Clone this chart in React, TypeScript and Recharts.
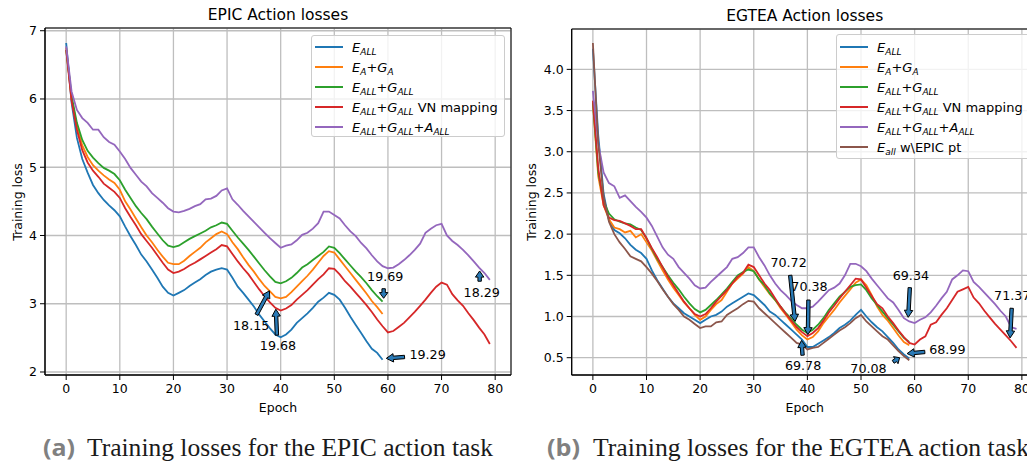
import React from "react";
import {
  LineChart,
  Line,
  XAxis,
  YAxis,
  CartesianGrid,
  ReferenceArea,
  ReferenceLine,
  ReferenceDot,
  Legend,
} from "recharts";

// epochs 0..79
const epochs = Array.from({ length: 80 }, (_, i) => i);
const xTicks = [0, 10, 20, 30, 40, 50, 60, 70, 80];
const epicYTicks = [2, 3, 4, 5, 6, 7];
const egteaYTicks = [0.5, 1.0, 1.5, 2.0, 2.5, 3.0, 3.5, 4.0];

// EPIC action losses
const epicEAll = [
  6.82, 5.95, 5.43, 5.12, 4.92, 4.74, 4.62, 4.52, 4.44, 4.37,
  4.28, 4.13, 3.99, 3.86, 3.72, 3.62, 3.5, 3.38, 3.25, 3.16,
  3.12, 3.16, 3.2, 3.26, 3.31, 3.36, 3.42, 3.47, 3.5, 3.52,
  3.5, 3.38, 3.25, 3.16, 3.06, 2.96, 2.84, 2.74, 2.64, 2.55,
  2.51, 2.55, 2.62, 2.72, 2.79, 2.86, 2.94, 3.03, 3.09, 3.16,
  3.13, 3.06, 2.94, 2.81, 2.69, 2.57, 2.45, 2.34, 2.28, 2.18,
];
const epicEaGa = [
  6.75, 6.0, 5.6, 5.32, 5.15, 5.03, 4.95, 4.88, 4.82, 4.77,
  4.67, 4.5, 4.38, 4.25, 4.12, 4.0, 3.9, 3.79, 3.69, 3.6,
  3.58, 3.58, 3.63, 3.7, 3.76, 3.82, 3.9, 3.96, 4.02, 4.06,
  4.02, 3.9, 3.8, 3.68, 3.57, 3.47, 3.36, 3.26, 3.18, 3.1,
  3.08, 3.1, 3.17, 3.25, 3.33, 3.41, 3.5, 3.6, 3.7, 3.77,
  3.75, 3.65, 3.55, 3.45, 3.35, 3.25, 3.15, 3.04, 2.95, 2.85,
];
const epicEG = [
  6.72, 6.05, 5.65, 5.4, 5.24, 5.14, 5.06, 4.99, 4.95, 4.9,
  4.81, 4.67, 4.55, 4.43, 4.33, 4.24, 4.13, 4.03, 3.93, 3.85,
  3.83, 3.85, 3.9, 3.95, 3.99, 4.03, 4.07, 4.12, 4.15, 4.19,
  4.17, 4.07, 3.97, 3.88, 3.79, 3.69, 3.59, 3.49, 3.4, 3.32,
  3.3, 3.33, 3.38, 3.45, 3.53, 3.58, 3.64, 3.7, 3.76, 3.84,
  3.82, 3.74, 3.65, 3.56, 3.47, 3.39, 3.3, 3.2, 3.11, 3.03,
];
const epicVN = [
  6.72, 5.98, 5.55, 5.25, 5.07, 4.95, 4.86, 4.76, 4.7, 4.64,
  4.55, 4.4, 4.27, 4.15, 4.02, 3.92, 3.82, 3.71, 3.6, 3.5,
  3.45, 3.47, 3.51, 3.56, 3.6, 3.65, 3.7, 3.75, 3.8, 3.86,
  3.84, 3.73, 3.62, 3.52, 3.43, 3.32, 3.21, 3.11, 3.02, 2.94,
  2.9, 2.93, 2.98, 3.06, 3.13, 3.2, 3.28, 3.36, 3.43, 3.52,
  3.51, 3.43, 3.33, 3.25, 3.16, 3.07, 2.98, 2.88, 2.77, 2.67,
  2.58, 2.6, 2.66, 2.72, 2.8, 2.88, 2.97, 3.06, 3.16, 3.25,
  3.31, 3.28, 3.14, 3.05, 2.97, 2.86, 2.76, 2.65, 2.55, 2.41,
];
const epicEGA = [
  6.77, 6.11, 5.84, 5.72, 5.65, 5.55, 5.55, 5.44, 5.37, 5.33,
  5.23, 5.12, 4.99, 4.89, 4.79, 4.72, 4.62, 4.55, 4.48, 4.4,
  4.35, 4.34, 4.36, 4.39, 4.43, 4.46, 4.53, 4.54, 4.58, 4.66,
  4.69, 4.53, 4.45, 4.36, 4.28, 4.2, 4.12, 4.04, 3.96, 3.89,
  3.82, 3.85, 3.87, 3.93, 4.01, 4.04, 4.1, 4.18, 4.35, 4.35,
  4.3, 4.25, 4.15, 4.06, 3.99, 3.89, 3.81, 3.71, 3.62, 3.55,
  3.52, 3.53, 3.58, 3.64, 3.71, 3.79, 3.88, 4.04, 4.1, 4.15,
  4.17, 4.0, 3.92, 3.86, 3.79, 3.71, 3.62, 3.53, 3.45, 3.35,
];

// EGTEA action losses
const egteaEAll = [
  4.25, 3.2, 2.49, 2.17, 2.05, 2.01, 1.95, 1.87, 1.81, 1.77,
  1.7, 1.56, 1.44, 1.34, 1.24, 1.16, 1.1, 1.04, 1.0, 0.96,
  0.92, 0.96, 1.0, 1.02, 1.06, 1.12, 1.16, 1.2, 1.24, 1.28,
  1.26, 1.2, 1.14, 1.06, 1.02, 0.96, 0.9, 0.84, 0.78, 0.72,
  0.63, 0.63, 0.67, 0.71, 0.75, 0.8, 0.86, 0.9, 0.95, 1.02,
  1.08, 1.0, 0.93, 0.87, 0.82, 0.75, 0.68, 0.6, 0.54, 0.49,
];
const egteaEaGa = [
  3.6, 2.7, 2.35, 2.18, 2.08, 2.06, 2.02, 2.04, 1.96, 2.0,
  1.9, 1.8, 1.68, 1.56, 1.45, 1.35, 1.26, 1.17, 1.1, 1.02,
  0.96, 1.0, 1.08, 1.15, 1.2, 1.3, 1.4, 1.46, 1.52, 1.6,
  1.55, 1.45, 1.36, 1.27, 1.2, 1.1, 1.02, 0.93, 0.84, 0.77,
  0.72, 0.75, 0.82, 0.92, 1.0, 1.08, 1.17, 1.25, 1.33, 1.41,
  1.45, 1.38, 1.26, 1.12, 1.02, 0.95, 0.86, 0.77, 0.69, 0.65,
];
const egteaEG = [
  3.6, 2.75, 2.4, 2.25, 2.18, 2.15, 2.13, 2.12, 2.08, 2.05,
  1.95, 1.82, 1.7, 1.6, 1.5, 1.41, 1.33, 1.24, 1.16, 1.09,
  1.05, 1.08, 1.14, 1.2, 1.27, 1.34, 1.42, 1.5, 1.54, 1.57,
  1.55, 1.45, 1.38, 1.28, 1.2, 1.12, 1.04, 0.97, 0.9, 0.84,
  0.8, 0.84, 0.9, 0.98, 1.08, 1.16, 1.24, 1.3, 1.36, 1.38,
  1.39, 1.32, 1.22, 1.14, 1.06, 0.98, 0.9, 0.82, 0.74, 0.69,
];
const egteaVN = [
  3.62, 2.8, 2.35, 2.2, 2.17, 2.16, 2.13, 2.1, 2.06, 2.06,
  1.95, 1.83, 1.72, 1.6, 1.48, 1.38, 1.28, 1.18, 1.1, 1.03,
  1.0, 1.03, 1.1, 1.18, 1.25, 1.32, 1.4, 1.48, 1.53, 1.63,
  1.6, 1.5, 1.4, 1.32, 1.22, 1.12, 1.03, 0.95, 0.87, 0.81,
  0.76, 0.8, 0.86, 0.95, 1.05, 1.13, 1.22, 1.3, 1.38, 1.46,
  1.45, 1.35, 1.25, 1.15, 1.1, 1.0, 0.92, 0.83, 0.75, 0.68,
  0.66, 0.72, 0.76, 0.9, 0.93, 1.02, 1.1, 1.2, 1.3, 1.33,
  1.36, 1.23, 1.16, 1.07, 0.99, 0.91, 0.84, 0.77, 0.7, 0.62,
];
const egteaEGA = [
  3.74, 3.1, 2.75, 2.62, 2.58, 2.44, 2.47, 2.4, 2.33, 2.27,
  2.2, 2.1, 1.97, 1.84, 1.75, 1.7, 1.6, 1.53, 1.46, 1.38,
  1.34, 1.35, 1.42, 1.48, 1.54, 1.6, 1.7, 1.72, 1.77, 1.84,
  1.84, 1.72, 1.62, 1.5, 1.4, 1.32, 1.26, 1.19, 1.14, 1.1,
  1.1, 1.12, 1.18, 1.25, 1.32, 1.35, 1.4, 1.5, 1.64, 1.64,
  1.61, 1.55, 1.46, 1.38, 1.3, 1.22, 1.17, 1.08, 0.98, 0.94,
  0.92, 0.96, 0.99, 1.05, 1.13, 1.22, 1.3, 1.45, 1.5, 1.56,
  1.55, 1.42, 1.36, 1.29, 1.22, 1.15, 1.07, 1.0, 0.87, 0.85,
];
const egteaEpicPt = [
  4.32, 3.1, 2.45, 2.15, 2.0, 1.9, 1.82, 1.73, 1.7, 1.67,
  1.6, 1.52, 1.43, 1.33, 1.24, 1.15, 1.08, 1.0, 0.96, 0.91,
  0.86, 0.88, 0.88, 0.93, 0.94, 1.02, 1.06, 1.1, 1.15, 1.19,
  1.18, 1.1, 1.04, 0.98, 0.92, 0.86, 0.8, 0.74, 0.68, 0.66,
  0.6, 0.62, 0.63, 0.68, 0.73, 0.78, 0.83, 0.87, 0.92, 0.98,
  1.02, 0.94, 0.88, 0.82, 0.76, 0.72, 0.65, 0.58, 0.52, 0.47,
];

// annotations: label, text centre (tx, ty), arrow tail (ax, ay), arrow head (hx, hy)
const epicNotes = [
  { label: "19.69", tx: 59.5, ty: 3.4, ax: 59.2, ay: 3.22, hx: 59.2, hy: 3.08 },
  { label: "18.29", tx: 77.5, ty: 3.17, ax: 77.1, ay: 3.33, hx: 77.1, hy: 3.48 },
  { label: "18.15", tx: 34.5, ty: 2.68, ax: 35.5, ay: 2.84, hx: 37.9, hy: 3.19 },
  { label: "19.68", tx: 39.5, ty: 2.39, ax: 39.3, ay: 2.54, hx: 39.1, hy: 2.92 },
  { label: "19.29", tx: 67.4, ty: 2.25, ax: 63.1, ay: 2.22, hx: 59.7, hy: 2.2 },
];
const egteaNotes = [
  { label: "70.72", tx: 36.5, ty: 1.65, ax: 36.8, ay: 1.5, hx: 37.7, hy: 0.94 },
  { label: "70.38", tx: 40.4, ty: 1.36, ax: 40.2, ay: 1.2, hx: 40.1, hy: 0.78 },
  { label: "69.78", tx: 39.2, ty: 0.4, ax: 39.1, ay: 0.53, hx: 38.9, hy: 0.71 },
  { label: "70.08", tx: 51.4, ty: 0.37, ax: 56.0, ay: 0.45, hx: 57.2, hy: 0.5 },
  { label: "68.99", tx: 66.1, ty: 0.6, ax: 61.9, ay: 0.57, hx: 58.6, hy: 0.55 },
  { label: "69.34", tx: 59.3, ty: 1.5, ax: 59.1, ay: 1.35, hx: 58.8, hy: 0.99 },
  { label: "71.37", tx: 78.2, ty: 1.25, ax: 78.1, ay: 1.1, hx: 77.8, hy: 0.74 },
];

type Seg = string | [string, string];

const epicSeries = [
  { key: "eAll", color: "#1f77b4", label: [["E", "ALL"]] as Seg[] },
  { key: "eaGa", color: "#ff7f0e", label: [["E", "A"], "+", ["G", "A"]] as Seg[] },
  { key: "eg", color: "#2ca02c", label: [["E", "ALL"], "+", ["G", "ALL"]] as Seg[] },
  { key: "vn", color: "#d62728", label: [["E", "ALL"], "+", ["G", "ALL"], " VN mapping"] as Seg[] },
  { key: "ega", color: "#9467bd", label: [["E", "ALL"], "+", ["G", "ALL"], "+", ["A", "ALL"]] as Seg[] },
];
const egteaSeries = [
  ...epicSeries,
  { key: "epicPt", color: "#8c564b", label: [["E", "all"], " w\\EPIC pt"] as Seg[] },
];

const epicData = epochs.map((e) => ({
  epoch: e,
  eAll: epicEAll[e],
  eaGa: epicEaGa[e],
  eg: epicEG[e],
  vn: epicVN[e],
  ega: epicEGA[e],
}));
const egteaData = epochs.map((e) => ({
  epoch: e,
  eAll: egteaEAll[e],
  eaGa: egteaEaGa[e],
  eg: egteaEG[e],
  vn: egteaVN[e],
  ega: egteaEGA[e],
  epicPt: egteaEpicPt[e],
}));

const FONT = "'DejaVu Sans', sans-serif";
const tickStyle = { fill: "#000", fontSize: 12.5, fontFamily: FONT };

function Arrow(p: any) {
  const { x1, y1, x2, y2 } = p;
  if (x1 == null || y2 == null) return null;
  const dx = x2 - x1;
  const dy = y2 - y1;
  const len = Math.hypot(dx, dy) || 1;
  const ux = dx / len;
  const uy = dy / len;
  const nx = -uy;
  const ny = ux;
  const hl = Math.min(7, len * 0.6);
  const hw = 4.2;
  const sw = 1.7;
  const bx = x2 - ux * hl;
  const by = y2 - uy * hl;
  const pts = [
    [x1 + nx * sw, y1 + ny * sw],
    [bx + nx * sw, by + ny * sw],
    [bx + nx * hw, by + ny * hw],
    [x2, y2],
    [bx - nx * hw, by - ny * hw],
    [bx - nx * sw, by - ny * sw],
    [x1 - nx * sw, y1 - ny * sw],
  ];
  return (
    <polygon
      points={pts.map((q) => q.join(",")).join(" ")}
      fill="#2a7ab6"
      stroke="#000"
      strokeWidth={1}
    />
  );
}

function LegendBox({ items, w, h, pad }: { items: typeof egteaSeries; w: number; h: number; pad: number }) {
  return (
    <div
      style={{
        width: w,
        height: h,
        boxSizing: "border-box",
        background: "rgba(255,255,255,0.8)",
        border: "1px solid #cccccc",
        borderRadius: 3,
        paddingTop: pad,
        fontFamily: FONT,
        fontSize: 13,
        color: "#000",
      }}
    >
      {items.map((s) => (
        <div key={s.key} style={{ height: 20, display: "flex", alignItems: "center", whiteSpace: "nowrap" }}>
          <span style={{ display: "inline-block", width: 28, height: 2, background: s.color, marginLeft: 3, marginRight: 9 }} />
          <span>
            {s.label.map((seg, i) =>
              typeof seg === "string" ? (
                <span key={i}>{seg}</span>
              ) : (
                <span key={i} style={{ fontStyle: "italic" }}>
                  {seg[0]}
                  <span style={{ fontSize: 9, position: "relative", top: 3 }}>{seg[1]}</span>
                </span>
              )
            )}
          </span>
        </div>
      ))}
    </div>
  );
}

function Panel({
  data,
  series,
  notes,
  yDomain,
  yTicks,
  yFmt,
  yAxisWidth,
  marginLeft,
  marginRight,
  top,
  width,
  legendPos,
}: any) {
  return (
    <LineChart
      width={width}
      height={420}
      data={data}
      margin={{ top, right: marginRight, bottom: 15, left: marginLeft }}
    >
      <CartesianGrid stroke="#bebebe" strokeWidth={1.3} />
      <XAxis
        dataKey="epoch"
        type="number"
        domain={[-3.95, 82.95]}
        allowDataOverflow
        ticks={xTicks}
        interval={0}
        height={30}
        tick={tickStyle}
        tickSize={5}
        tickMargin={4}
        tickLine={{ stroke: "#000" }}
        axisLine={{ stroke: "#000" }}
      />
      <YAxis
        type="number"
        domain={yDomain}
        allowDataOverflow
        ticks={yTicks}
        interval={0}
        width={yAxisWidth}
        tick={tickStyle}
        tickFormatter={yFmt}
        tickSize={5}
        tickMargin={3}
        tickLine={{ stroke: "#000" }}
        axisLine={{ stroke: "#000" }}
      />
      <ReferenceArea
        x1={-3.95}
        x2={82.95}
        y1={yDomain[0]}
        y2={yDomain[1]}
        ifOverflow="visible"
        fill="none"
        stroke="#000"
        strokeWidth={1}
      />
      {series.map((s: any) => (
        <Line
          key={s.key}
          dataKey={s.key}
          type="linear"
          stroke={s.color}
          strokeWidth={1.8}
          dot={false}
          activeDot={false}
          isAnimationActive={false}
        />
      ))}
      {notes.map((n: any) => (
        <ReferenceLine
          key={"a" + n.label}
          segment={[
            { x: n.ax, y: n.ay },
            { x: n.hx, y: n.hy },
          ]}
          ifOverflow="visible"
          shape={Arrow}
        />
      ))}
      {notes.map((n: any) => (
        <ReferenceDot
          key={"t" + n.label}
          x={n.tx}
          y={n.ty}
          r={0}
          ifOverflow="visible"
          shape={(p: any) => (
            <text
              x={p.cx}
              y={p.cy}
              textAnchor="middle"
              dominantBaseline="central"
              fontFamily={FONT}
              fontSize={12.7}
              fill="#000"
            >
              {n.label}
            </text>
          )}
        />
      ))}
      <Legend
        layout="vertical"
        verticalAlign="middle"
        align="center"
        wrapperStyle={{ left: legendPos.left, top: legendPos.top, width: legendPos.w, height: legendPos.h }}
        content={() => <LegendBox items={series} w={legendPos.w} h={legendPos.h} pad={legendPos.pad} />}
      />
    </LineChart>
  );
}

export default function App() {
  return (
    <div
      style={{
        position: "absolute",
        left: 0,
        top: 0,
        width: 1027,
        height: 464,
        overflow: "hidden",
        background: "#fff",
        fontFamily: FONT,
      }}
    >
      <div style={{ position: "absolute", left: 0, top: 0 }}>
        <Panel
          data={epicData}
          series={epicSeries}
          notes={epicNotes}
          yDomain={[1.956, 7.04]}
          yTicks={epicYTicks}
          yFmt={(v: number) => String(v)}
          yAxisWidth={38}
          marginLeft={7}
          marginRight={9}
          top={28}
          width={520}
          legendPos={{ left: 311, top: 35, w: 194, h: 102, pad: 1 }}
        />
      </div>
      <div style={{ position: "absolute", left: 520, top: 0 }}>
        <Panel
          data={egteaData}
          series={egteaSeries}
          notes={egteaNotes}
          yDomain={[0.29, 4.49]}
          yTicks={egteaYTicks}
          yFmt={(v: number) => v.toFixed(1)}
          yAxisWidth={42}
          marginLeft={9.7}
          marginRight={12.3}
          top={29}
          width={530}
          legendPos={{ left: 316, top: 34, w: 200, h: 125, pad: 2 }}
        />
      </div>
      <svg
        width={1027}
        height={464}
        style={{ position: "absolute", left: 0, top: 0, pointerEvents: "none" }}
      >
        <g fontFamily={FONT} fill="#000">
          <text x={278} y={15} fontSize={15.5} textAnchor="middle" dominantBaseline="central">
            EPIC Action losses
          </text>
          <text x={804.7} y={16} fontSize={15.5} textAnchor="middle" dominantBaseline="central">
            EGTEA Action losses
          </text>
          <text x={278} y={407} fontSize={12.5} textAnchor="middle" dominantBaseline="central">
            Epoch
          </text>
          <text x={804.7} y={407} fontSize={12.5} textAnchor="middle" dominantBaseline="central">
            Epoch
          </text>
          <text
            x={17}
            y={202}
            fontSize={12.5}
            textAnchor="middle"
            dominantBaseline="central"
            transform="rotate(-90 17 202)"
          >
            Training loss
          </text>
          <text
            x={531}
            y={202}
            fontSize={12.5}
            textAnchor="middle"
            dominantBaseline="central"
            transform="rotate(-90 531 202)"
          >
            Training loss
          </text>
        </g>
        <g>
          <text x={43} y={456} fontFamily="'Open Sans', sans-serif" fontWeight="bold" fontSize={24} fill="#808080" textLength={32} lengthAdjust="spacingAndGlyphs">
            (a)
          </text>
          <text x={87} y={456} fontFamily="'Liberation Serif', serif" fontSize={26} fill="#1a1a1a" textLength={406} lengthAdjust="spacingAndGlyphs">
            Training losses for the EPIC action task
          </text>
          <text x={547} y={456} fontFamily="'Open Sans', sans-serif" fontWeight="bold" fontSize={24} fill="#808080" textLength={33} lengthAdjust="spacingAndGlyphs">
            (b)
          </text>
          <text x={593} y={456} fontFamily="'Liberation Serif', serif" fontSize={26} fill="#1a1a1a" textLength={436} lengthAdjust="spacingAndGlyphs">
            Training losses for the EGTEA action task
          </text>
        </g>
      </svg>
    </div>
  );
}
